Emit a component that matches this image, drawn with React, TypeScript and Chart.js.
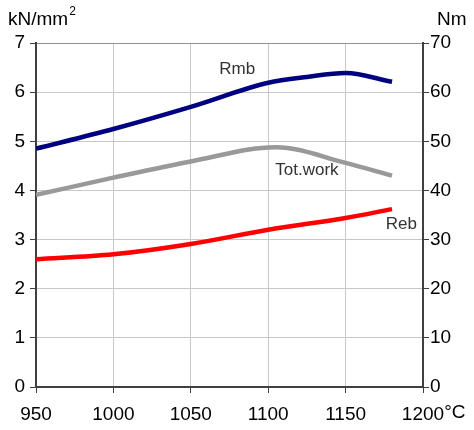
import React, { useEffect, useRef } from "react";
import { Chart, registerables } from "chart.js";
Chart.register(...registerables);

const rmbTemps = [950, 1000, 1050, 1100, 1125, 1150, 1180];
const rmbValues = [4.85, 5.25, 5.7, 6.19, 6.31, 6.39, 6.21];
const totTemps = [950, 1000, 1050, 1105, 1150, 1180];
const totValues = [3.91, 4.26, 4.59, 4.88, 4.56, 4.3];
const rebTemps = [950, 1000, 1050, 1100, 1150, 1180];
const rebValues = [2.6, 2.7, 2.91, 3.2, 3.44, 3.62];
const xTicks = [950, 1000, 1050, 1100, 1150, 1200];
const leftTicks = [0, 1, 2, 3, 4, 5, 6, 7];
const rightTicks = [0, 10, 20, 30, 40, 50, 60, 70];
const seriesLabels = [
  { text: "Rmb", x: 1080, y: 6.46 },
  { text: "Tot.work", x: 1125, y: 4.4 },
  { text: "Reb", x: 1186, y: 3.32 },
];

const FONT = "Arial, 'Liberation Sans', sans-serif";
const AXIS = "#404040";
const GRID = "#c8c8c8";

export default function App() {
  const ref = useRef<HTMLCanvasElement>(null);
  useEffect(() => {
    document.body.style.margin = "0";
    const toXY = (xs: number[], ys: number[]) => xs.map((x, i) => ({ x, y: ys[i] }));
    const overlay = {
      id: "overlay",
      afterDraw(chart: any) {
        const ctx = chart.ctx;
        const xs = chart.scales.x;
        const ys = chart.scales.y;
        ctx.save();
        ctx.fillStyle = "#333";
        ctx.font = `17px ${FONT}`;
        ctx.textAlign = "center";
        ctx.textBaseline = "middle";
        for (const l of seriesLabels) {
          ctx.fillText(l.text, xs.getPixelForValue(l.x), ys.getPixelForValue(l.y));
        }
        ctx.fillStyle = "#000";
        ctx.font = `19px ${FONT}`;
        ctx.textAlign = "left";
        ctx.textBaseline = "alphabetic";
        ctx.fillText("kN/mm", 8, 25);
        const w = ctx.measureText("kN/mm").width;
        ctx.font = `12px ${FONT}`;
        ctx.fillText("2", 8 + w + 1, 15);
        ctx.font = `19px ${FONT}`;
        ctx.fillText("Nm", 437, 25);
        const lastX = xs.getPixelForValue(1200);
        const w1200 = ctx.measureText("1200").width;
        ctx.textBaseline = "top";
        ctx.fillText("°C", lastX + w1200 / 2, 387 + 6 + 10);
        ctx.restore();
      },
    };
    const chart = new Chart(ref.current!, {
      type: "line",
      data: {
        datasets: [
          {
            label: "Rmb",
            data: toXY(rmbTemps, rmbValues),
            borderColor: "#000080",
            borderWidth: 4.5,
            pointRadius: 0,
            cubicInterpolationMode: "monotone",
            yAxisID: "y",
          },
          {
            label: "Tot.work",
            data: toXY(totTemps, totValues),
            borderColor: "#999999",
            borderWidth: 4.5,
            pointRadius: 0,
            cubicInterpolationMode: "monotone",
            yAxisID: "y",
          },
          {
            label: "Reb",
            data: toXY(rebTemps, rebValues),
            borderColor: "#ff0000",
            borderWidth: 4.5,
            pointRadius: 0,
            cubicInterpolationMode: "monotone",
            yAxisID: "y",
          },
        ],
      },
      options: {
        animation: false,
        responsive: false,
        layout: { padding: { top: 43, left: 0, right: 0, bottom: 0 } },
        plugins: { legend: { display: false }, tooltip: { enabled: false } },
        scales: {
          x: {
            type: "linear",
            min: 950,
            max: 1200,
            afterBuildTicks: (s: any) => {
              s.ticks = xTicks.map((v) => ({ value: v }));
            },
            afterFit: (s: any) => {
              s.height = 43;
            },
            ticks: {
              font: { size: 19, family: FONT },
              color: "#000",
              padding: 10,
              maxRotation: 0,
              autoSkip: false,
              callback: (v: any) => String(v),
            },
            grid: { color: GRID, tickColor: AXIS, tickLength: 6, lineWidth: 1 },
            border: { color: AXIS, width: 2 },
          },
          y: {
            position: "left",
            min: 0,
            max: 7,
            afterBuildTicks: (s: any) => {
              s.ticks = leftTicks.map((v) => ({ value: v }));
            },
            afterFit: (s: any) => {
              s.width = 36;
            },
            ticks: {
              font: { size: 19, family: FONT },
              color: "#000",
              padding: 5,
              callback: (v: any) => String(v),
            },
            grid: {
              color: (c: any) => (c.tick && c.tick.value === 7 ? "#909090" : GRID),
              tickColor: AXIS,
              tickLength: 6,
            },
            border: { color: AXIS, width: 2 },
          },
          y2: {
            position: "right",
            min: 0,
            max: 70,
            afterBuildTicks: (s: any) => {
              s.ticks = rightTicks.map((v) => ({ value: v }));
            },
            afterFit: (s: any) => {
              s.width = 51;
            },
            ticks: {
              font: { size: 19, family: FONT },
              color: "#000",
              padding: 1,
              callback: (v: any) => String(v),
            },
            grid: { drawOnChartArea: false, tickColor: AXIS, tickLength: 6 },
            border: { color: AXIS, width: 2 },
          },
        },
      },
      plugins: [overlay],
    } as any);
    return () => chart.destroy();
  }, []);
  return <canvas ref={ref} width={474} height={430} style={{ display: "block" }} />;
}
